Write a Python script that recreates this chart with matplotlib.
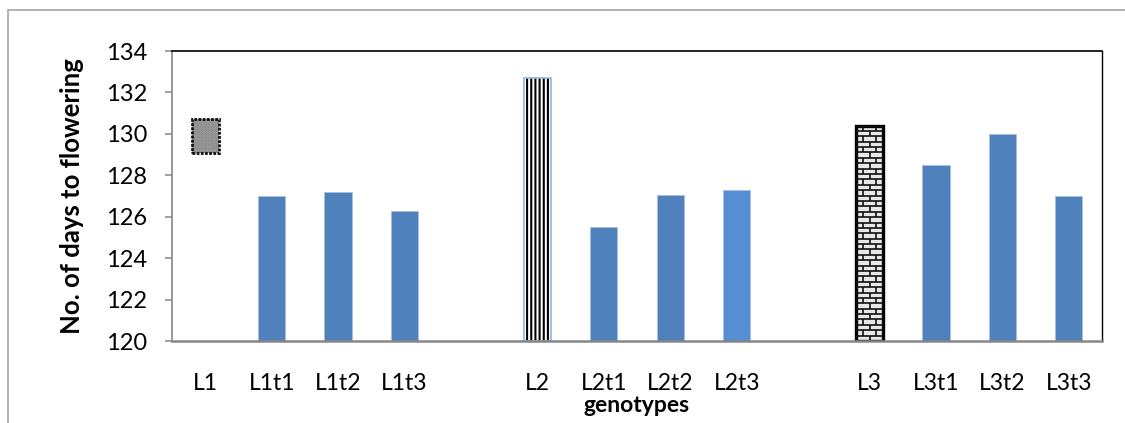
import numpy as np
import matplotlib.pyplot as plt
from matplotlib.patches import Rectangle
from matplotlib.collections import LineCollection

plt.rcParams['font.family'] = ['Lato', 'DejaVu Sans']
plt.rcParams['hatch.linewidth'] = 1.5

genotypes = ['L1', 'L1t1', 'L1t2', 'L1t3', 'L2', 'L2t1', 'L2t2', 'L2t3',
             'L3', 'L3t1', 'L3t2', 'L3t3']
days = [130.7, 127.0, 127.2, 126.3, 132.7, 125.5, 127.05, 127.3,
        130.4, 128.5, 130.0, 127.0]
l1_base = 129.1  # the L1 bar only shows its top part
slots = [0, 1, 2, 3, 5, 6, 7, 8, 10, 11, 12, 13]
y_min, y_max = 120, 134

blue = '#4f81bd'
blue2 = '#558ed5'
w = 0.41

fig = plt.figure(figsize=(11.25, 4.23), dpi=100)
ax = fig.add_axes([172 / 1125, 1 - 341 / 423, 930 / 1125, 290 / 423])

# outer chart-area frame (only top and left edges are inside the image)
fig.patches.append(Rectangle((8 / 1125, -0.1), 1.2, 1 - 10 / 423 + 0.1,
                             transform=fig.transFigure, fill=False,
                             edgecolor='#a6a6a6', linewidth=1.2))

for g, x, v in zip(genotypes, slots, days):
    if g == 'L1':
        ax.bar(x, v - l1_base, w, bottom=l1_base, color='#7f7f7f',
               edgecolor='#a5a5a5', hatch='......', linewidth=0)
        ax.bar(x, v - l1_base, w, bottom=l1_base, fill=False,
               edgecolor='#111111', linewidth=2.0, linestyle=(0, (1, 0.5)))
    elif g == 'L2':
        ax.bar(x, v - y_min, w, bottom=y_min, color='white',
               edgecolor='black', hatch='||||', linewidth=0)
        ax.bar(x, v - y_min, w, bottom=y_min, fill=False,
               edgecolor='#95b3d7', linewidth=1.2)
    elif g == 'L3':
        bars = ax.bar(x, v - y_min, w, bottom=y_min, color='#e8e8e8',
                      edgecolor='black', linewidth=2.4)
        p = bars[0]
        x0, x1 = p.get_x(), p.get_x() + p.get_width()
        y0, y1 = p.get_y(), p.get_y() + p.get_height()
        h = 0.26
        bw = (x1 - x0) / 2
        segs = []
        for k, yy in enumerate(np.arange(y0, y1, h)):
            segs.append([(x0, yy), (x1, yy)])
            off = 0 if k % 2 == 0 else bw / 2
            for xx in np.arange(x0 + off, x1 + bw, bw):
                segs.append([(xx, yy), (xx, yy + h)])
        lc = LineCollection(segs, colors='#111111', linewidths=1.2)
        ax.add_collection(lc)
        lc.set_clip_path(p)
    else:
        ax.bar(x, v - y_min, w, bottom=y_min,
               color=blue2 if g == 'L2t3' else blue,
               edgecolor='#a9c1df', linewidth=0.6)

ax.set_xlim(-0.5, 13.5)
ax.set_ylim(y_min, y_max)
ax.set_yticks(np.arange(120, 135, 2))
ax.set_xticks(slots)
ax.set_xticklabels(genotypes)

ax.tick_params(axis='y', direction='out', length=5, width=1.1,
               color='#868686', labelsize=17, pad=13)
ax.tick_params(axis='x', length=0, labelsize=16.5, pad=23)

ax.spines['left'].set_color('#868686')
ax.spines['left'].set_linewidth(1.2)
ax.spines['bottom'].set_color('#868686')
ax.spines['bottom'].set_linewidth(1.8)
ax.spines['top'].set_color('black')
ax.spines['top'].set_linewidth(1.2)
ax.spines['right'].set_color('black')
ax.spines['right'].set_linewidth(1.0)

ax.set_ylabel('No. of days to flowering', fontsize=18.5, fontweight='bold',
              va='center')
ax.yaxis.set_label_coords(-0.1075, 0.5)
ax.set_xlabel('genotypes', fontsize=16.5, fontweight='bold', labelpad=1)

fig.savefig('out.png', dpi=100)
